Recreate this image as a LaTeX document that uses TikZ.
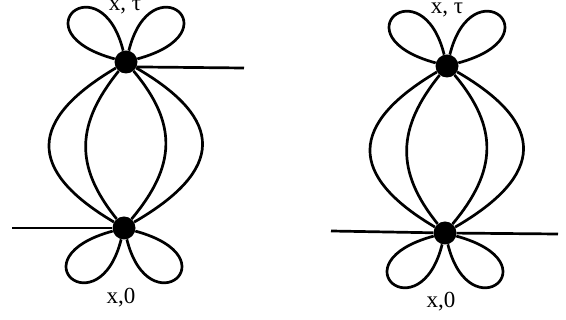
\documentclass[tikz,border=0pt]{standalone}
\usepackage{fontspec}
\setmainfont{Liberation Serif}
\usetikzlibrary{positioning}

\begin{document}
\begin{tikzpicture}[x=1pt,y=-1pt,
    vertex/.style={circle,fill=black,inner sep=0pt,minimum size=23pt},
    line/.style={line width=2.7pt,black},
    every node/.style={font=\fontsize{23}{26}\selectfont,anchor=base,inner sep=0pt}]
    \useasboundingbox (0,0) rectangle (566,320);
    \node[vertex,anchor=center] (tl) at (126,62) {};
    \node[vertex,anchor=center] (bl) at (124,228) {};
    \node[vertex,anchor=center] (tr) at (447,66) {};
    \node[vertex,anchor=center] (br) at (445,233) {};
    \coordinate (el) at (244,68);
    \coordinate (sl) at (12,228);
    \coordinate (sr) at (331,231);
    \coordinate (er) at (558,234);
    \node (lt) at (125,11) {x, τ};
    \node (rt) at (447,14) {x, τ};
    \node (lb) at (121,304) {x,0};
    \node (rb) at (441,308) {x,0};
    \foreach \a/\b in {tl/bl,tr/br}{
      \draw[line] (\a) .. controls +(-98,58) and +(-98,-58) .. (\b);
      \draw[line] (\a) .. controls +(-50,62) and +(-50,-62) .. (\b);
      \draw[line] (\a) .. controls +(52,62) and +(52,-62) .. (\b);
      \draw[line] (\a) .. controls +(100,58) and +(100,-58) .. (\b);
      \draw[line] (\a) .. controls +(-110,-30) and +(-25,-100) .. (\a);
      \draw[line] (\a) .. controls +(110,-30) and +(25,-100) .. (\a);
      \draw[line] (\b) .. controls +(-110,30) and +(-25,100) .. (\b);
      \draw[line] (\b) .. controls +(110,30) and +(25,100) .. (\b);
    }
    \draw[line] (tl.-25)--(el);
    \draw[line] (sl)--(bl);
    \draw[line] (sr)--(br);
    \draw[line] (br)--(er);
\end{tikzpicture}
\end{document}
